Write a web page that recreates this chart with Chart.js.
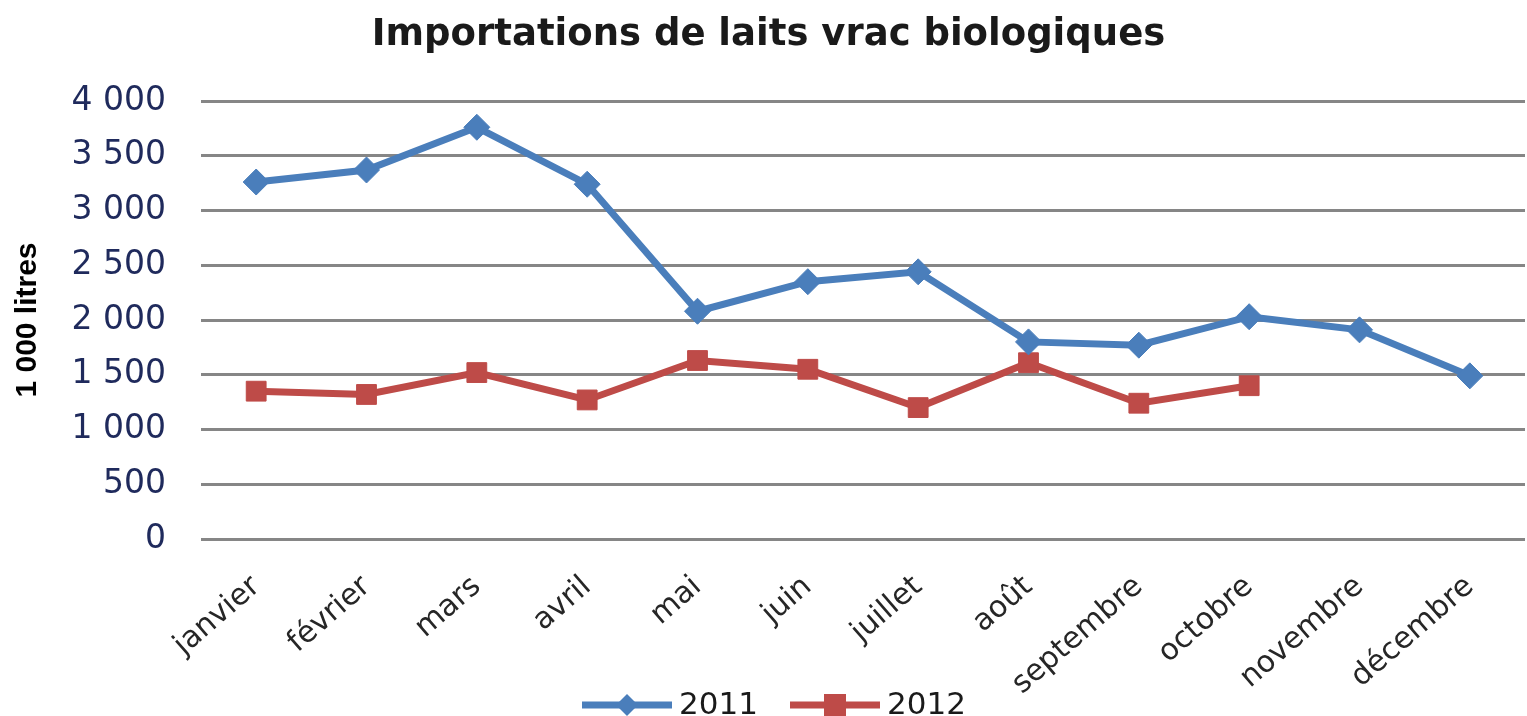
<!DOCTYPE html>
<html>
<head>
<meta charset="utf-8">
<script src="https://cdn.jsdelivr.net/npm/chart.js@4.4.0/dist/chart.umd.min.js"></script>
<style>
  html, body { margin: 0; padding: 0; background: #fff; overflow: hidden; }
  #clip { position: relative; width: 1527px; height: 716px; overflow: hidden; }
  #myChart { display: block; position: absolute; left: 0; top: 0; }
</style>
</head>
<body>
<div id="clip"><canvas id="myChart" width="1540" height="730"></canvas></div>
<script>
const months = ['janvier', 'février', 'mars', 'avril', 'mai', 'juin', 'juillet', 'août', 'septembre', 'octobre', 'novembre', 'décembre'];
const values2011 = [3260, 3370, 3760, 3240, 2080, 2350, 2440, 1800, 1770, 2030, 1910, 1490];
const values2012 = [1350, 1320, 1520, 1270, 1630, 1550, 1200, 1610, 1240, 1400];
const yTicks = [0, 500, 1000, 1500, 2000, 2500, 3000, 3500, 4000];

const blue = '#4A7EBB';
const red = '#BE4B48';
const gridColor = '#868686';

// french thousands: "4 000"
const fmt = v => v >= 1000 ? Math.floor(v / 1000) + ' ' + String(v % 1000).padStart(3, '0') : String(v);

// legend with line + marker, like the spreadsheet one
const lineLegend = {
    id: 'lineLegend',
    afterDraw(chart) {
        const ctx = chart.ctx;
        const y = 705;
        const items = [
            { x: 582, text: '2011', color: blue, style: 'diamond' },
            { x: 790, text: '2012', color: red, style: 'square' },
        ];
        ctx.save();
        items.forEach(it => {
            ctx.strokeStyle = it.color;
            ctx.fillStyle = it.color;
            ctx.lineWidth = 7;
            ctx.beginPath();
            ctx.moveTo(it.x, y);
            ctx.lineTo(it.x + 90, y);
            ctx.stroke();
            const cx = it.x + 45;
            ctx.beginPath();
            if (it.style === 'diamond') {
                ctx.moveTo(cx, y - 11);
                ctx.lineTo(cx + 11, y);
                ctx.lineTo(cx, y + 11);
                ctx.lineTo(cx - 11, y);
                ctx.closePath();
            } else {
                ctx.rect(cx - 11, y - 11, 22, 22);
            }
            ctx.fill();
            ctx.fillStyle = '#1a1a1a';
            ctx.font = '31px "DejaVu Sans"';
            ctx.textBaseline = 'middle';
            ctx.textAlign = 'left';
            ctx.fillText(it.text, it.x + 97, y + 1);
        });
        ctx.restore();
    }
};

const ctx = document.getElementById('myChart').getContext('2d');

const myChart = new Chart(ctx, {
    type: 'line',
    data: {
        labels: months,
        datasets: [{
            label: '2011',
            data: values2011,
            borderColor: blue,
            backgroundColor: blue,
            borderWidth: 7,
            pointStyle: 'rectRot',
            pointRadius: 13,
            pointBorderWidth: 1,
        }, {
            label: '2012',
            data: values2012,
            borderColor: red,
            backgroundColor: red,
            borderWidth: 7,
            pointStyle: 'rect',
            pointRadius: 14,
            pointBorderWidth: 1,
        }],
    },
    plugins: [lineLegend],
    options: {
        responsive: false,
        animation: false,
        layout: {
            padding: { left: 0, right: 3, top: 0, bottom: 0 },
        },
        scales: {
            x: {
                offset: true,
                grid: { display: false, drawTicks: false },
                border: { display: false },
                ticks: {
                    autoSkip: false,
                    minRotation: 41,
                    maxRotation: 41,
                    padding: 30,
                    color: '#262626',
                    font: { family: 'DejaVu Sans', size: 30 },
                },
                afterFit: scale => {
                    scale.height = 191;
                    scale.paddingLeft = 0;
                    scale.paddingRight = 0;
                },
            },
            y: {
                min: 0,
                max: 4000,
                afterBuildTicks: scale => { scale.ticks = yTicks.map(v => ({ value: v })); },
                grid: { color: gridColor, lineWidth: 3, drawTicks: false },
                border: { display: false },
                ticks: {
                    padding: 35,
                    color: '#1F2A5C',
                    font: { family: 'DejaVu Sans', size: 33 },
                    callback: v => fmt(v),
                },
                title: {
                    display: true,
                    text: '1 000 litres',
                    color: '#000',
                    padding: { top: 10, bottom: 0 },
                    font: { family: '"Liberation Sans Narrow", "Liberation Sans"', size: 30, weight: 'bold' },
                },
                afterFit: scale => { scale.width = 201; },
            },
        },
        plugins: {
            legend: { display: false },
            tooltip: { enabled: false },
            title: {
                display: true,
                text: 'Importations de laits vrac biologiques',
                color: '#1a1a1a',
                padding: { top: 13, bottom: 43.6 },
                font: { family: 'DejaVu Sans', size: 37, weight: 'bold' },
            },
        },
    }
});
</script>
</body>
</html>
